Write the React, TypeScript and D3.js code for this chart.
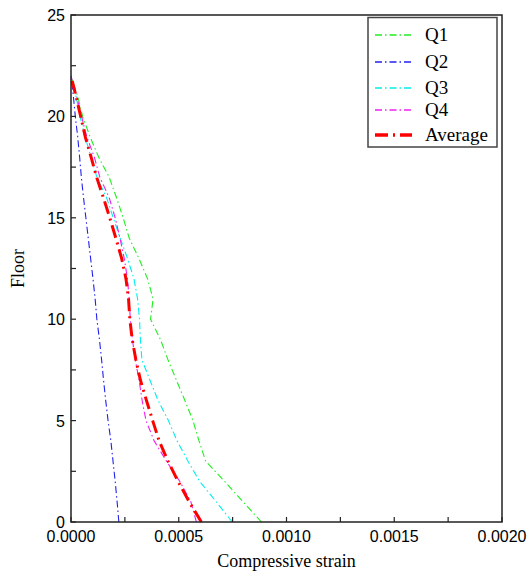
import React from 'react';
import * as d3 from 'd3';

const width = 530;
const height = 576;
const margin = { top: 15, left: 71, right: 28, bottom: 54 };

const floors = [0, 1, 2, 3, 4, 5, 6, 7, 8, 9, 10, 11, 12, 13, 14, 15, 16, 17, 18, 19, 20, 21, 22];
const q1 = [0.000884, 0.000798, 0.000713, 0.000625, 0.000594, 0.000566, 0.000528, 0.000489, 0.00045, 0.000415, 0.000369, 0.000381, 0.000355, 0.000315, 0.00027, 0.000242, 0.000211, 0.000177, 0.000128, 0.000088, 0.000054, 0.000031, 0];
const q2 = [0.000222, 0.000214, 0.000205, 0.000195, 0.000185, 0.000172, 0.000161, 0.000151, 0.000142, 0.000132, 0.00012, 0.000112, 0.000102, 0.000091, 0.00008, 0.000069, 0.000058, 0.000048, 0.00004, 0.000031, 0.00002, 0.000011, 0];
const q3 = [0.000748, 0.000674, 0.000597, 0.000543, 0.000492, 0.000452, 0.000404, 0.000366, 0.000329, 0.000322, 0.000318, 0.000309, 0.000292, 0.000262, 0.000228, 0.000196, 0.000165, 0.00012, 0.000093, 0.000065, 0.000042, 0.000023, 0];
const q4 = [0.000582, 0.000556, 0.000505, 0.000443, 0.000386, 0.000348, 0.00033, 0.000316, 0.000298, 0.000285, 0.000275, 0.00027, 0.000262, 0.000247, 0.000227, 0.000205, 0.000177, 0.000134, 0.000108, 0.000073, 0.000049, 0.000026, 0];
const avg = [0.000605, 0.000548, 0.000497, 0.00045, 0.000409, 0.000379, 0.00035, 0.000322, 0.000301, 0.000284, 0.000273, 0.000267, 0.000255, 0.000235, 0.000208, 0.00018, 0.00015, 0.000119, 0.000093, 0.000066, 0.000045, 0.000023, 0];

const xTicks = [0, 0.0005, 0.001, 0.0015, 0.002];
const xTickLabels = ['0.0000', '0.0005', '0.0010', '0.0015', '0.0020'];
const xMinor = [0.00025, 0.00075, 0.00125, 0.00175];
const yTicks = [0, 5, 10, 15, 20, 25];
const yMinor = [2.5, 7.5, 12.5, 17.5, 22.5];

const series = [
  { name: 'Q1', values: q1, color: '#22ee22', w: 1.1, dash: '7,3,1.5,3' },
  { name: 'Q2', values: q2, color: '#2222ee', w: 1.1, dash: '7,3,1.5,3' },
  { name: 'Q3', values: q3, color: '#00eeee', w: 1.1, dash: '7,3,1.5,3' },
  { name: 'Q4', values: q4, color: '#ee22ee', w: 1.1, dash: '7,3,1.5,3' },
  { name: 'Average', values: avg, color: '#ff0000', w: 3, dash: '13,5,2,5' },
];

export default function App() {
  const x = d3.scaleLinear().domain([0, 0.002]).range([margin.left, width - margin.right]);
  const y = d3.scaleLinear().domain([0, 25]).range([height - margin.bottom, margin.top]);
  const line = d3.line<number>().x(d => x(d)).y((d, i) => y(floors[i]));
  const x0 = x(0), x1 = x(0.002), y0 = y(0), y1 = y(25);
  const axisFont = '"Liberation Sans", Arial, sans-serif';
  const serif = '"Liberation Serif", "Times New Roman", serif';

  return (
    <svg width={width} height={height} style={{ position: 'absolute', left: 0, top: 0 }}>
      <rect width={width} height={height} fill="white" />
      {series.map(s => (
        <path key={s.name} d={line(s.values) || ''} fill="none" stroke={s.color}
          strokeWidth={s.w} strokeDasharray={s.dash} />
      ))}
      <rect x={x0} y={y1} width={x1 - x0} height={y0 - y1} fill="none" stroke="#222" strokeWidth={1.5} />
      {xTicks.map((t, i) => (
        <g key={'x' + i}>
          <line x1={x(t)} x2={x(t)} y1={y0} y2={y0 - 5} stroke="#222" strokeWidth={1.2} />
          <text x={x(t)} y={542} textAnchor="middle" fontFamily={axisFont} fontSize={16}>{xTickLabels[i]}</text>
        </g>
      ))}
      {xMinor.map((t, i) => (
        <line key={'xm' + i} x1={x(t)} x2={x(t)} y1={y0} y2={y0 - 5} stroke="#222" strokeWidth={1.2} />
      ))}
      {yTicks.map((t, i) => (
        <g key={'y' + i}>
          <line x1={x0} x2={x0 + 5} y1={y(t)} y2={y(t)} stroke="#222" strokeWidth={1.2} />
          <text x={x0 - 6} y={y(t) + 6} textAnchor="end" fontFamily={axisFont} fontSize={16}>{t}</text>
        </g>
      ))}
      {yMinor.map((t, i) => (
        <line key={'ym' + i} x1={x0} x2={x0 + 5} y1={y(t)} y2={y(t)} stroke="#222" strokeWidth={1.2} />
      ))}
      <text x={(x0 + x1) / 2} y={567} textAnchor="middle" fontFamily={serif} fontSize={18}>Compressive strain</text>
      <text transform={`translate(24,${(y0 + y1) / 2}) rotate(-90)`} textAnchor="middle" fontFamily={serif} fontSize={18}>Floor</text>
      <g>
        <rect x={368} y={17.5} width={129} height={129.5} fill="white" stroke="#444" strokeWidth={1.5} />
        {series.map((s, i) => {
          const ly = [35, 62, 88, 110, 135][i];
          return (
            <g key={'l' + s.name}>
              <line x1={375} x2={412} y1={ly} y2={ly} stroke={s.color} strokeWidth={s.w + 0.3} strokeDasharray={s.dash} />
              <text x={425} y={ly + 6} fontFamily={serif} fontSize={19}>{s.name}</text>
            </g>
          );
        })}
      </g>
    </svg>
  );
}
